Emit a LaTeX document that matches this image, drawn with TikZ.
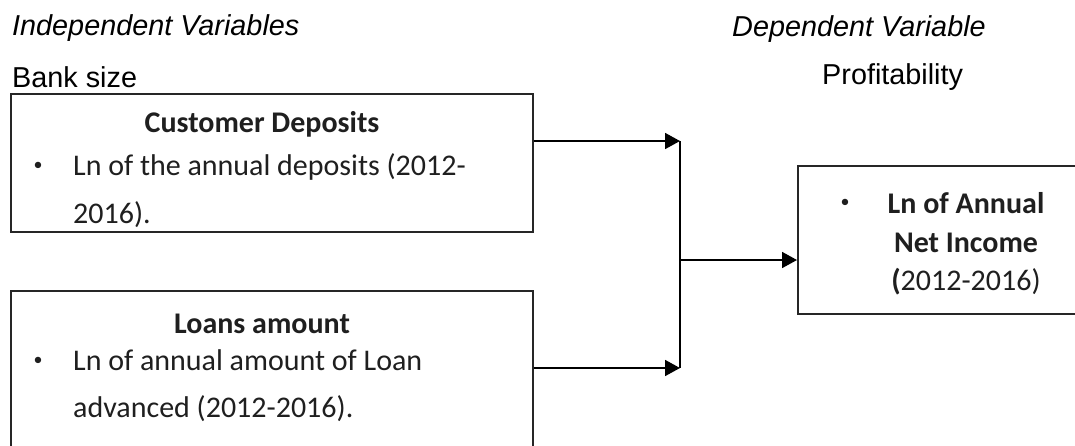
\documentclass[tikz,border=0pt]{standalone}
\usepackage{fontspec}
\setmainfont{Liberation Sans}
\newfontfamily\boxfont{Carlito}
\usetikzlibrary{arrows.meta,calc}
\begin{document}
\begin{tikzpicture}[x=1pt,y=-1pt,
  hdr/.style={inner sep=0pt,anchor=base west,font=\fontsize{28.8}{34}\selectfont},
  frame/.style={draw=black!85,line width=1.6pt,inner sep=0pt,anchor=north west},
  btxt/.style={inner sep=0pt,anchor=base west,text=black!88,font=\boxfont\fontsize{30}{36}\selectfont},
  bttl/.style={inner sep=0pt,anchor=base,text=black!88,font=\boxfont\bfseries\fontsize{30}{36}\selectfont},
  dot/.style={inner sep=0pt,anchor=base,text=black!88,font=\boxfont\fontsize{18}{20}\selectfont},
  arr/.style={draw=black,line width=1.8pt,-{Triangle[length=15pt,width=16pt]}},
  ln/.style={draw=black,line width=1.8pt}]
\clip (0,0) rectangle (1075,445);
\fill[white] (0,0) rectangle (1075,445);
% headings
\node[hdr,font=\itshape\fontsize{28.8}{34}\selectfont] (hl) at (12,35) {Independent Variables};
\node[hdr,font=\itshape\fontsize{28.8}{34}\selectfont] (hr) at (732,36) {Dependent Variable};
\node[hdr] (bank) at (12,87) {Bank size};
\node[hdr] (prof) at (822,84) {Profitability};
% boxes
\node[frame,minimum width=522pt,minimum height=138pt] (box1) at (10,93) {};
\node[frame,minimum width=522pt,minimum height=180pt] (box2) at (10,290) {};
\node[frame,minimum width=300pt,minimum height=148pt] (box3) at (797,165) {};
% box 1 text
\node[bttl] (t1) at (262,132) {Customer Deposits};
\node[dot] (d1) at (38,170) {•};
\node[btxt] (a1) at (73,175) {Ln of the annual deposits (2012-};
\node[btxt] (b1) at (73,223) {2016).};
% box 2 text
\node[bttl] (t2) at (262,333) {Loans amount};
\node[dot] (d2) at (38,365) {•};
\node[btxt] (a2) at (73,370) {Ln of annual amount of Loan};
\node[btxt] (b2) at (73,417) {advanced (2012-2016).};
% box 3 text
\node[dot] (d3) at (845,207) {•};
\node[bttl] (c1) at (966,213) {Ln of Annual};
\node[bttl] (c2) at (966,252) {Net Income};
\node[btxt,anchor=base] (c3) at (966,290) {\textbf{(}2012-2016)};
% connectors
\coordinate (j1) at (680,141);
\coordinate (j2) at (680,368);
\coordinate (jm) at (680,260);
\draw[arr] (box1.east |- j1) -- (j1);
\draw[arr] (box2.east |- j2) -- (j2);
\draw[ln] (j1) -- (j2);
\draw[arr] (jm) -- (box3.west |- jm);
\end{tikzpicture}
\end{document}
